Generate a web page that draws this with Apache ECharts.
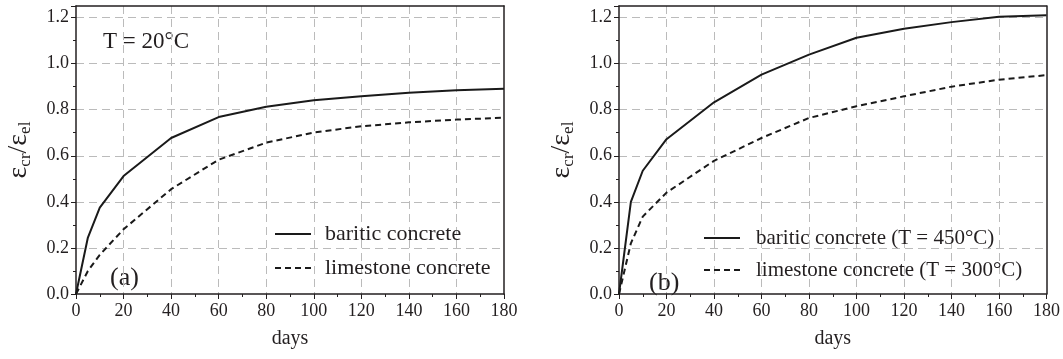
<!DOCTYPE html>
<html><head><meta charset="utf-8">
<script src="https://cdn.jsdelivr.net/npm/echarts@6/dist/echarts.min.js"></script>
<style>html,body{margin:0;padding:0;background:#fff}#c{width:1063px;height:359px}</style>
</head><body><div id="c"></div>
<script>
const days = [0, 5, 10, 20, 40, 60, 80, 100, 120, 140, 160, 180];
const bariticA = [0, 0.245, 0.375, 0.512, 0.677, 0.768, 0.813, 0.841, 0.858, 0.874, 0.884, 0.891];
const limestoneA = [0, 0.10, 0.17, 0.281, 0.455, 0.583, 0.657, 0.701, 0.728, 0.745, 0.757, 0.765];
const bariticB = [0, 0.40, 0.535, 0.672, 0.832, 0.952, 1.039, 1.112, 1.151, 1.18, 1.203, 1.21];
const limestoneB = [0, 0.22, 0.336, 0.44, 0.578, 0.677, 0.764, 0.815, 0.858, 0.90, 0.93, 0.95];
const xTicks = [0, 20, 40, 60, 80, 100, 120, 140, 160, 180];
const yTicks = [0, 0.2, 0.4, 0.6, 0.8, 1.0, 1.2];
const namesA = ['baritic concrete', 'limestone concrete'];
const namesB = ['baritic concrete (T = 450°C)', 'limestone concrete (T = 300°C)'];

const FONT = 'Liberation Serif';
const TXT = '#231f20';
const pairs = (xs, ys) => xs.map((x, i) => [x, ys[i]]);

function xAxis(i) {
  return {
    type: 'value', gridIndex: i, min: 0, max: 180, interval: 20,
    name: 'days', nameLocation: 'middle', nameGap: 35,
    nameTextStyle: { fontFamily: FONT, fontSize: 20, color: TXT },
    axisLine: { show: true, onZero: false, lineStyle: { color: TXT, width: 1.5 } },
    axisTick: { show: true, inside: false, length: 5, lineStyle: { color: TXT, width: 1 } },
    minorTick: { show: true, splitNumber: 2, length: 3, lineStyle: { color: TXT, width: 1 } },
    axisLabel: { fontFamily: FONT, fontSize: 18, color: TXT, margin: 8,
      formatter: v => xTicks.includes(v) ? String(v) : '' },
    splitLine: { show: true, showMinLine: false, showMaxLine: false, lineStyle: { color: '#bbb', width: 1, type: [8, 5] } }
  };
}
function yAxis(i) {
  return {
    type: 'value', gridIndex: i, min: 0, max: 1.25, interval: 0.2,
    name: '{e|ε}{s|cr}{e|/ε}{s|el}', nameLocation: 'middle', nameGap: 42, nameRotate: 90,
    nameTextStyle: { fontFamily: FONT, color: TXT,
      rich: {
        e: { fontFamily: FONT, fontSize: 28, color: TXT, verticalAlign: 'middle', lineHeight: 30 },
        s: { fontFamily: FONT, fontSize: 17, color: TXT, verticalAlign: 'bottom', lineHeight: 30, padding: [12, 0, 0, 0] }
      } },
    axisLine: { show: true, lineStyle: { color: TXT, width: 1.5 } },
    axisTick: { show: true, inside: false, length: 5, lineStyle: { color: TXT, width: 1 } },
    minorTick: { show: true, splitNumber: 2, length: 3, lineStyle: { color: TXT, width: 1 } },
    axisLabel: { fontFamily: FONT, fontSize: 18, color: TXT, margin: 7,
      formatter: v => yTicks.some(t => Math.abs(t - v) < 1e-6) ? (Math.round(v * 10) / 10).toFixed(1) : '' },
    splitLine: { show: true, showMinLine: false, showMaxLine: false, lineStyle: { color: '#bbb', width: 1, type: [8, 5] } }
  };
}
function frameX(i) {
  return { type: 'value', gridIndex: i, position: 'top', min: 0, max: 180,
    axisLine: { show: true, onZero: false, lineStyle: { color: TXT, width: 1.5 } },
    axisTick: { show: false }, axisLabel: { show: false }, splitLine: { show: false } };
}
function frameY(i) {
  return { type: 'value', gridIndex: i, position: 'right', min: 0, max: 1.25,
    axisLine: { show: true, onZero: false, lineStyle: { color: TXT, width: 1.5 } },
    axisTick: { show: false }, axisLabel: { show: false }, splitLine: { show: false } };
}
function line(name, data, i, dashed) {
  return {
    name, type: 'line', xAxisIndex: i, yAxisIndex: i, data, symbol: 'none',
    lineStyle: { color: '#1a1a1a', width: 2, type: dashed ? [6, 4] : 'solid' },
    itemStyle: { color: '#1a1a1a' }, z: 3, animation: false
  };
}
function legend(names, left, top, w, gap, size, itemGap) {
  return {
    data: names, orient: 'vertical', left, top, itemWidth: w, itemHeight: 12, itemGap,
    selectedMode: false,
    itemStyle: { opacity: 0 },
    textStyle: { fontFamily: FONT, fontSize: size, color: TXT, lineHeight: 24, padding: [0, 0, 0, gap] }
  };
}

const chart = echarts.init(document.getElementById('c'), null, { renderer: 'canvas' });
chart.setOption({
  animation: false,
  grid: [
    { left: 76, right: 559, top: 6, bottom: 65 },
    { left: 619, right: 16, top: 6, bottom: 65 }
  ],
  xAxis: [xAxis(0), xAxis(1), frameX(0), frameX(1)],
  yAxis: [yAxis(0), yAxis(1), frameY(0), frameY(1)],
  legend: [legend(namesA, 269, 217, 36, 9, 22, 10), legend(namesB, 698, 221, 36, 11, 21, 8)],
  series: [
    line(namesA[0], pairs(days, bariticA), 0, false),
    line(namesA[1], pairs(days, limestoneA), 0, true),
    line(namesB[0], pairs(days, bariticB), 1, false),
    line(namesB[1], pairs(days, limestoneB), 1, true)
  ],
  graphic: [
    { type: 'text', left: 103, top: 30, style: { text: 'T = 20°C', fontFamily: FONT, fontSize: 23, fill: TXT } },
    { type: 'text', left: 110, top: 265, style: { text: '(a)', fontFamily: FONT, fontSize: 26, fill: TXT } },
    { type: 'text', left: 649, top: 270, style: { text: '(b)', fontFamily: FONT, fontSize: 26, fill: TXT } }
  ]
});
</script></body></html>
